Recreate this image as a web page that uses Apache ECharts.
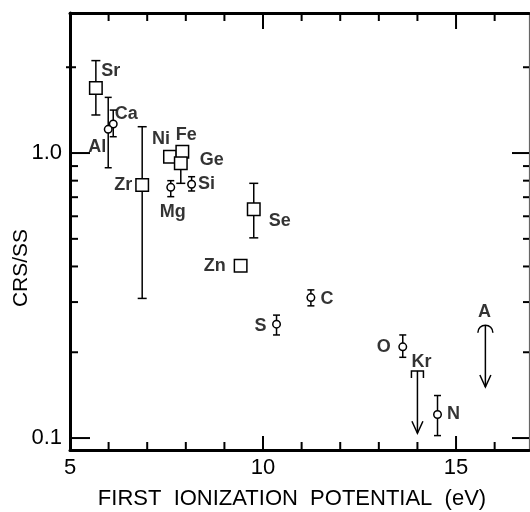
<!DOCTYPE html>
<html><head><meta charset="utf-8">
<script src="https://cdn.jsdelivr.net/npm/echarts@6/dist/echarts.min.js"></script>
<style>html,body{margin:0;padding:0;background:#fff}#c{width:530px;height:512px}</style>
</head><body><div id="c"></div>
<script>
// ---------------- data ----------------
const squareNames   = ['Sr', 'Zr', 'Ni', 'Fe', 'Ge', 'Se', 'Zn'];
const squareFIP     = [5.67, 6.87, 7.59, 7.91, 7.87, 9.76, 9.42];
const squareRatio   = [1.69, 0.772, 0.971, 1.01, 0.920, 0.635, 0.402];
const squareErrLow  = [1.36, 0.309, null, null, 0.783, 0.504, null];
const squareErrHigh = [2.11, 1.237, null, null, 1.0, 0.783, null];

const circleNames   = ['Ca', 'Al', 'Mg', 'Si', 'S', 'C', 'O', 'N'];
const circleFIP     = [6.12, 5.99, 7.61, 8.15, 10.35, 11.24, 13.62, 14.52];
const circleRatio   = [1.264, 1.211, 0.758, 0.777, 0.251, 0.311, 0.209, 0.121];
const circleErrLow  = [1.141, 0.888, 0.703, 0.736, 0.230, 0.291, 0.192, 0.102];
const circleErrHigh = [1.415, 1.568, 0.800, 0.826, 0.270, 0.331, 0.230, 0.141];

const limitNames    = ['Kr', 'A'];
const limitFIP      = [14.00, 15.76];
const limitTop      = [0.172, 0.249];
const limitArrowEnd = [0.104, 0.151];

const xRange = [5, 16.89];
const yRange = [0.0908, 3.1];
const xTickLabels = [5, 10, 15];
const xTickValues = [6, 7, 8, 9, 10, 11, 12, 13, 14, 15, 16];
const xMajorTicks = [10, 15];
const yTickValues = [0.1, 0.2, 0.3, 0.4, 0.5, 0.6, 0.7, 0.8, 0.9, 1, 2];
const yMajorTicks = [0.1, 1];
const yTickLabels = ['0.1', '1.0'];

const xTitle = 'FIRST  IONIZATION  POTENTIAL  (eV)';
const yTitle = 'CRS/SS';

// ---------------- styles ----------------
const INK = '#000';
const FONT = '"Liberation Sans", Arial, sans-serif';
const TICK_W = 2;
const labelOffset = {
  Sr: [15, -17], Ca: [13, -10], Al: [-11, 18], Zr: [-19, 0], Ni: [-9, -18],
  Fe: [4, -17], Ge: [31, -3], Mg: [2, 25], Si: [15, 0], Se: [26, 12],
  Zn: [-26, 0], S: [-16, 2], C: [16, 1], O: [-19, 0], Kr: [4, -9],
  N: [16, 0], A: [-1, -13]
};
const limitCapStyle = { Kr: 'bracket', A: 'arc' };

// ---------------- helpers ----------------
function errData(fip, lo, hi) {
  const out = [];
  for (let i = 0; i < fip.length; i++) {
    if (lo[i] != null && hi[i] != null) out.push([fip[i], lo[i], hi[i]]);
  }
  return out;
}
function errorBarRenderer(capHalf) {
  return function (params, api) {
    const x = api.value(0);
    const pLo = api.coord([x, api.value(1)]);
    const pHi = api.coord([x, api.value(2)]);
    const st = { stroke: INK, lineWidth: 1.5 };
    return {
      type: 'group', children: [
        { type: 'line', shape: { x1: pLo[0], y1: pLo[1], x2: pHi[0], y2: pHi[1] }, style: st },
        { type: 'line', shape: { x1: pLo[0] - capHalf, y1: pLo[1], x2: pLo[0] + capHalf, y2: pLo[1] }, style: st },
        { type: 'line', shape: { x1: pHi[0] - capHalf, y1: pHi[1], x2: pHi[0] + capHalf, y2: pHi[1] }, style: st }
      ]
    };
  };
}
function limitRenderer(params, api) {
  const x = api.value(0);
  const pT = api.coord([x, api.value(1)]);
  const pE = api.coord([x, api.value(2)]);
  const kind = limitCapStyle[limitNames[params.dataIndex]];
  const st = { stroke: INK, lineWidth: 1.5, fill: null };
  const ch = [];
  if (kind === 'bracket') {
    ch.push({ type: 'polyline', shape: { points: [[pT[0] - 6, pT[1] + 7], [pT[0] - 6, pT[1]], [pT[0] + 6, pT[1]], [pT[0] + 6, pT[1] + 7]] }, style: st });
  } else {
    ch.push({ type: 'arc', shape: { cx: pT[0], cy: pT[1] + 7.5, r: 7.5, startAngle: Math.PI, endAngle: 2 * Math.PI, clockwise: true }, style: st });
  }
  ch.push({ type: 'line', shape: { x1: pT[0], y1: pT[1], x2: pE[0], y2: pE[1] }, style: st });
  ch.push({ type: 'polyline', shape: { points: [[pE[0] - 5.5, pE[1] - 12], [pE[0], pE[1]], [pE[0] + 5.5, pE[1] - 12]] }, style: st });
  return { type: 'group', children: ch };
}
function yTickRenderer(params, api) {
  const v = api.value(1);
  const y = api.coord([xRange[0], v])[1];
  const cs = params.coordSys;
  const L = cs.x, R = cs.x + cs.width;
  const major = yMajorTicks.indexOf(v) >= 0;
  const st = { stroke: INK, lineWidth: TICK_W };
  let l1 = L, l2 = L + 8;
  if (major) l2 = L + 20;
  if (v === 2) { l1 = L - 4; l2 = L + 6; }
  const r1 = major ? R - 17 : R - 6;
  return {
    type: 'group', children: [
      { type: 'line', shape: { x1: l1, y1: y, x2: l2, y2: y }, style: st },
      { type: 'line', shape: { x1: r1, y1: y, x2: R, y2: y }, style: st }
    ]
  };
}
function xTickRenderer(params, api) {
  const v = api.value(0);
  const x = api.coord([v, yRange[0]])[0];
  const cs = params.coordSys;
  const T = cs.y, B = cs.y + cs.height;
  const major = xMajorTicks.indexOf(v) >= 0;
  const st = { stroke: INK, lineWidth: TICK_W };
  return {
    type: 'group', children: [
      { type: 'line', shape: { x1: x, y1: B, x2: x, y2: B - (major ? 14 : 8) }, style: st },
      { type: 'line', shape: { x1: x, y1: T, x2: x, y2: T + (major ? 16 : 8) }, style: st }
    ]
  };
}

const labelData = [];
squareNames.forEach((n, i) => labelData.push({ name: n, value: [squareFIP[i], squareRatio[i]] }));
circleNames.forEach((n, i) => labelData.push({ name: n, value: [circleFIP[i], circleRatio[i]] }));
limitNames.forEach((n, i) => labelData.push({ name: n, value: [limitFIP[i], limitTop[i]] }));
labelData.forEach(d => { d.label = { offset: labelOffset[d.name] }; });

const xAxisBase = {
  type: 'value', min: xRange[0], max: xRange[1], interval: 5,
  axisLine: { show: true, onZero: false, lineStyle: { color: INK, width: 3 } },
  axisTick: { show: false },
  splitLine: { show: false }
};

const chart = echarts.init(document.getElementById('c'), null, { renderer: 'canvas' });
chart.setOption({
  animation: false,
  backgroundColor: '#fff',
  grid: { left: 70, right: 1, top: 13, bottom: 62, containLabel: false, outerBoundsMode: 'none' },
  xAxis: [
    Object.assign({}, xAxisBase, {
      position: 'bottom',
      axisLabel: {
        show: true, margin: 7, fontSize: 22, fontFamily: FONT, color: INK,
        showMaxLabel: false, interval: 0,
        formatter: v => (xTickLabels.indexOf(v) >= 0 ? String(v) : '')
      }
    }),
    Object.assign({}, xAxisBase, { position: 'top', axisLabel: { show: false } })
  ],
  yAxis: [
    {
      type: 'log', logBase: 10, min: yRange[0], max: yRange[1], position: 'left',
      axisLine: { show: true, onZero: false, lineStyle: { color: INK, width: 3 } },
      axisTick: { show: false }, splitLine: { show: false },
      axisLabel: {
        show: true, margin: 8, fontSize: 22, fontFamily: FONT, color: INK,
        showMinLabel: false, showMaxLabel: false,
        formatter: v => {
          for (let i = 0; i < yMajorTicks.length; i++) {
            if (Math.abs(v - yMajorTicks[i]) < 1e-9) return yTickLabels[i];
          }
          return '';
        }
      }
    },
    {
      type: 'log', logBase: 10, min: yRange[0], max: yRange[1], position: 'right',
      axisLine: { show: true, onZero: false, lineStyle: { color: '#666', width: 1.2 } },
      axisTick: { show: false }, axisLabel: { show: false }, splitLine: { show: false }
    }
  ],
  graphic: [
    { type: 'text', x: 292, y: 499, silent: true,
      style: { text: xTitle, font: '22px ' + FONT, fill: INK, textAlign: 'center', textVerticalAlign: 'middle' } },
    { type: 'text', x: 21, y: 268, rotation: Math.PI / 2, silent: true,
      style: { text: yTitle, font: '21px ' + FONT, fill: INK, textAlign: 'center', textVerticalAlign: 'middle' } }
  ],
  series: [
    { type: 'custom', name: 'yTicks', silent: true, z: 5, clip: false,
      data: yTickValues.map(v => [xRange[0], v]), encode: { x: 0, y: 1 },
      renderItem: yTickRenderer },
    { type: 'custom', name: 'xTicks', silent: true, z: 5, clip: false,
      data: xTickValues.map(v => [v, yRange[0]]), encode: { x: 0, y: 1 },
      renderItem: xTickRenderer },
    { type: 'custom', name: 'squareErr', silent: true, z: 2,
      data: errData(squareFIP, squareErrLow, squareErrHigh), encode: { x: 0, y: [1, 2] },
      renderItem: errorBarRenderer(4.5) },
    { type: 'custom', name: 'circleErr', silent: true, z: 2,
      data: errData(circleFIP, circleErrLow, circleErrHigh), encode: { x: 0, y: [1, 2] },
      renderItem: errorBarRenderer(3.5) },
    { type: 'custom', name: 'limits', silent: true, z: 2,
      data: limitFIP.map((x, i) => [x, limitTop[i], limitArrowEnd[i]]), encode: { x: 0, y: [1, 2] },
      renderItem: limitRenderer },
    { type: 'scatter', name: 'squares', silent: true, z: 3, symbol: 'rect', symbolSize: 12.5,
      itemStyle: { color: '#fff', borderColor: INK, borderWidth: 1.5, opacity: 1 },
      data: squareFIP.map((x, i) => [x, squareRatio[i]]) },
    { type: 'scatter', name: 'circles', silent: true, z: 3, symbol: 'circle', symbolSize: 7.5,
      itemStyle: { color: '#fff', borderColor: INK, borderWidth: 1.5, opacity: 1 },
      data: circleFIP.map((x, i) => [x, circleRatio[i]]) },
    { type: 'scatter', name: 'labels', silent: true, z: 4, symbolSize: 1,
      itemStyle: { color: 'rgba(0,0,0,0)' },
      label: { show: true, position: 'inside', formatter: '{b}', color: INK, fontSize: 18, fontWeight: 'bold', fontFamily: FONT },
      data: labelData }
  ]
});
</script></body></html>
